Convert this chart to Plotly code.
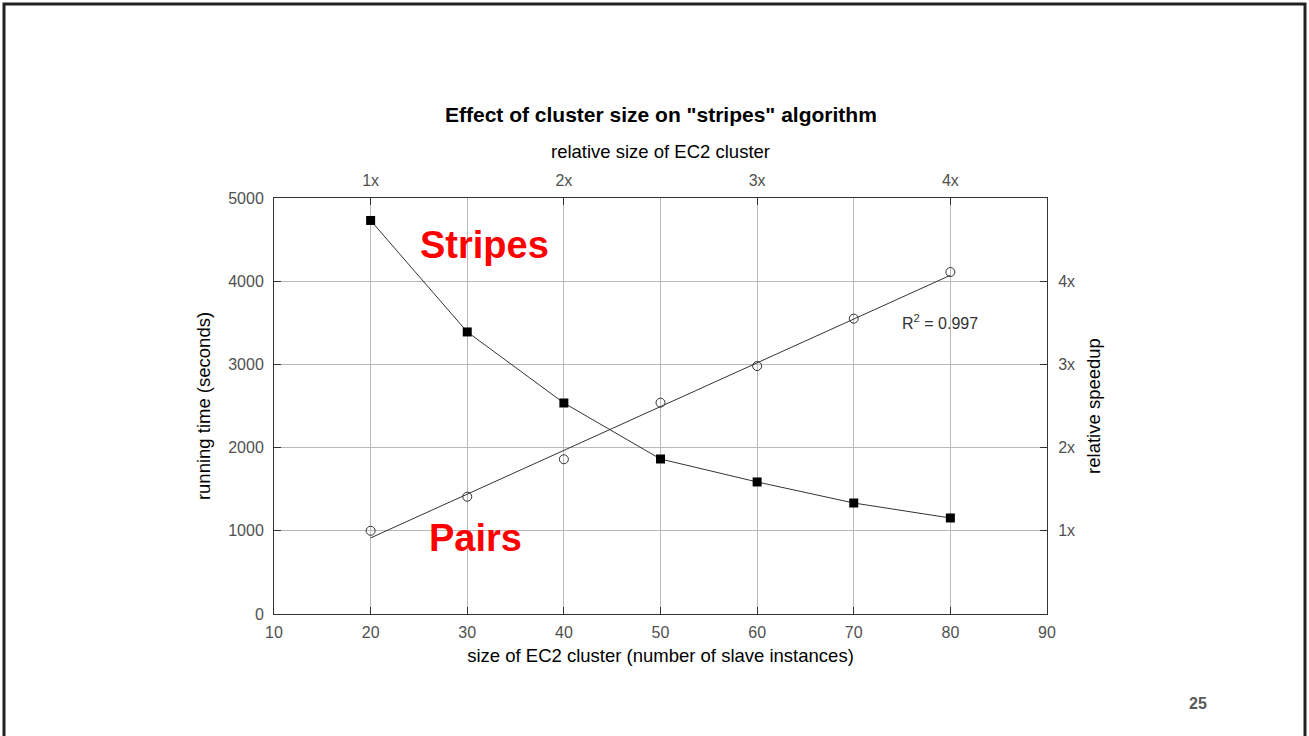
import numpy as np
import plotly.graph_objects as go

# ---- data ----
cluster_size = [20, 30, 40, 50, 60, 70, 80]
running_time = [4730, 3390, 2536, 1863, 1587, 1334, 1154]   # Stripes (seconds)
speedup = [1.00, 1.41, 1.86, 2.54, 2.98, 3.55, 4.11]         # relative speedup
rel_size_vals = [20, 40, 60, 80]
rel_size_text = ["1x", "2x", "3x", "4x"]
speedup_ticks = [1, 2, 3, 4]
speedup_text = ["1x", "2x", "3x", "4x"]
r2_label = "R<sup>2</sup> = 0.997"

# linear fit for speedup trend line
slope, intercept = np.polyfit(cluster_size, speedup, 1)
fit_x = [cluster_size[0], cluster_size[-1]]
fit_y = [slope * v + intercept for v in fit_x]

W, H = 1309, 736
L, R, T, B = 274, 1047, 198, 614
pw, ph = R - L, B - T

def px(x):
    return (x - L) / pw

def py(y):
    return (B - y) / ph

FONT = "Liberation Sans, Arial, sans-serif"
TICKC = "#505050"
GRID = "#b8b8b8"
AXC = "#333333"

fig = go.Figure()

fig.add_trace(go.Scatter(
    x=cluster_size, y=running_time, mode="lines+markers",
    line=dict(color="#333333", width=1),
    marker=dict(symbol="square", size=9, color="black"),
    xaxis="x", yaxis="y", showlegend=False, hoverinfo="x+y"))

fig.add_trace(go.Scatter(
    x=fit_x, y=fit_y, mode="lines",
    line=dict(color="#333333", width=1),
    xaxis="x", yaxis="y2", showlegend=False, hoverinfo="skip"))

fig.add_trace(go.Scatter(
    x=cluster_size, y=speedup, mode="markers",
    marker=dict(symbol="circle-open", size=9, color="#333333", line=dict(width=1)),
    xaxis="x", yaxis="y2", showlegend=False, hoverinfo="x+y"))

# invisible trace to activate top axis
fig.add_trace(go.Scatter(
    x=rel_size_vals, y=[None] * len(rel_size_vals), mode="markers",
    xaxis="x2", yaxis="y", showlegend=False, hoverinfo="skip"))

axis_common = dict(
    showline=True, linecolor=AXC, linewidth=1,
    ticks="inside", ticklen=7, tickcolor=AXC, tickwidth=1,
    tickfont=dict(family=FONT, size=16, color=TICKC),
    zeroline=False,
)
TITLE_FONT = dict(family=FONT, size=18.5, color="black")

fig.update_layout(
    width=W, height=H,
    paper_bgcolor="white", plot_bgcolor="white",
    margin=dict(l=L, r=W - R, t=T, b=H - B, pad=0),
    font=dict(family=FONT, color="black"),
    xaxis=dict(
        range=[10, 90], dtick=10, tick0=10,
        showgrid=True, gridcolor=GRID, gridwidth=1,
        ticklabelstandoff=4,
        title=dict(text="size of EC2 cluster (number of slave instances)",
                   font=TITLE_FONT, standoff=8),
        **axis_common),
    xaxis2=dict(
        overlaying="x", side="top", range=[10, 90],
        tickmode="array", tickvals=rel_size_vals, ticktext=rel_size_text,
        showgrid=False, ticklabelstandoff=5,
        title=dict(text="relative size of EC2 cluster",
                   font=TITLE_FONT, standoff=8),
        **axis_common),
    yaxis=dict(
        range=[0, 5000], dtick=1000, tick0=0,
        showgrid=True, gridcolor=GRID, gridwidth=1,
        ticklabelstandoff=6,
        title=dict(text="running time (seconds)",
                   font=TITLE_FONT, standoff=12),
        **axis_common),
    yaxis2=dict(
        overlaying="y", side="right", range=[0, 5],
        tickmode="array", tickvals=speedup_ticks, ticktext=speedup_text,
        showgrid=False, ticklabelstandoff=7,
        title=dict(text="relative speedup",
                   font=TITLE_FONT, standoff=12),
        **axis_common),
    hovermode="closest",
)

annotations = [
    dict(text="<b>Effect of cluster size on \"stripes\" algorithm</b>",
         xref="paper", yref="paper", x=0.5, y=py(114), xanchor="center", yanchor="middle",
         showarrow=False, font=dict(family=FONT, size=21, color="black")),
    dict(text="<b>Stripes</b>", xref="x", yref="y", x=31.8, y=4435,
         xanchor="center", yanchor="middle", showarrow=False,
         font=dict(family=FONT, size=38, color="#ff0000")),
    dict(text="<b>Pairs</b>", xref="x", yref="y", x=30.9, y=913,
         xanchor="center", yanchor="middle", showarrow=False,
         font=dict(family=FONT, size=38, color="#ff0000")),
    dict(text=r2_label, xref="x", yref="y", x=78.9, y=3510,
         xanchor="center", yanchor="middle", showarrow=False,
         font=dict(family=FONT, size=16, color="#333333")),
    dict(text="<b>25</b>", xref="paper", yref="paper", x=px(1198), y=py(703),
         xanchor="center", yanchor="middle", showarrow=False,
         font=dict(family=FONT, size=16, color="#595959")),
]
fig.update_layout(annotations=annotations)

fig.add_shape(type="rect", xref="paper", yref="paper",
              x0=px(4), x1=px(1305), y0=py(745), y1=py(4),
              line=dict(color="#222222", width=3), fillcolor="rgba(0,0,0,0)",
              layer="below")

fig.write_html("out.html",
               config={"displayModeBar": False},
               post_script="document.body.style.margin='0';document.body.style.overflow='hidden';")
